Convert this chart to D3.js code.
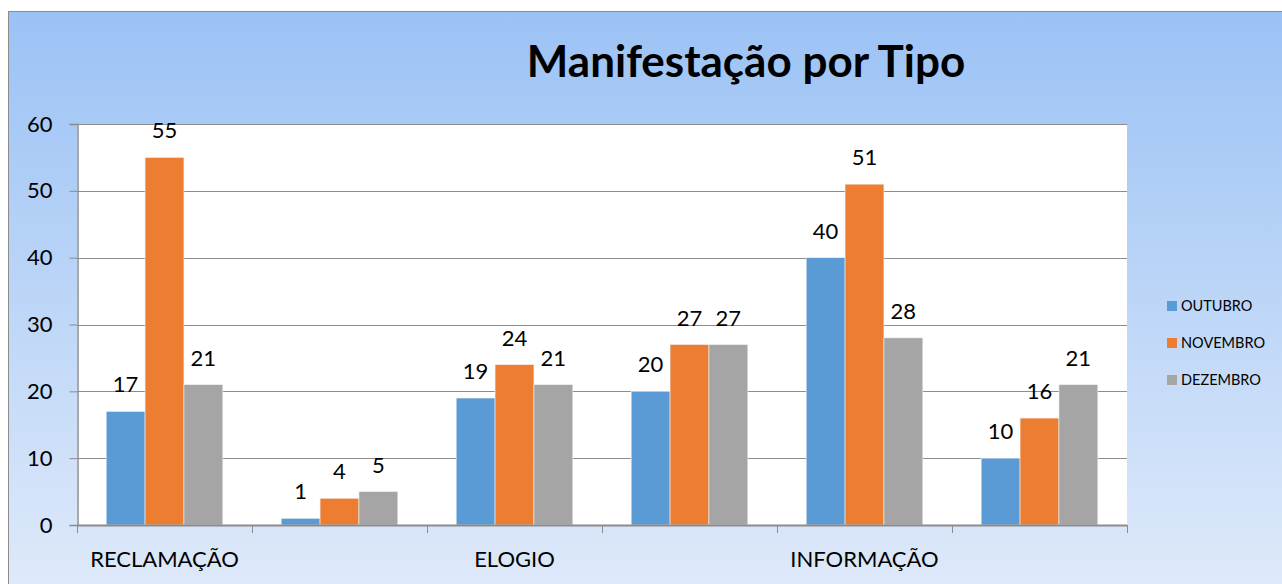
<!DOCTYPE html>
<html lang="pt">
<head>
    <meta charset="UTF-8">
    <title>Manifestação por Tipo</title>
    <script src="https://d3js.org/d3.v7.min.js"></script>
    <style>
        body {
            margin: 0;
            background: #fff;
        }
        svg text {
            font-family: Lato, 'Open Sans', sans-serif;
        }
    </style>
</head>
<body>
    <script>
        const W = 1282
        const H = 584

        // categorias (só uma em cada duas aparece no eixo, como no original)
        const categories = ['RECLAMAÇÃO', 'DENÚNCIA', 'ELOGIO', 'SUGESTÃO', 'INFORMAÇÃO', 'SOLICITAÇÃO']
        const months = ['OUTUBRO', 'NOVEMBRO', 'DEZEMBRO']
        const outubro = [17, 1, 19, 20, 40, 10]
        const novembro = [55, 4, 24, 27, 51, 16]
        const dezembro = [21, 5, 21, 27, 28, 21]
        const yTicks = [0, 10, 20, 30, 40, 50, 60]
        const colors = ['#5b9bd5', '#ed7d31', '#a5a5a5']

        const series = [outubro, novembro, dezembro]

        const plot = { left: 77, top: 124, right: 1127, bottom: 525 }

        const svg = d3.select('body')
            .append('svg')
            .attr('width', W)
            .attr('height', H)

        // fundo em degradê
        const grad = svg.append('defs')
            .append('linearGradient')
            .attr('id', 'bg')
            .attr('x1', 0).attr('y1', 0)
            .attr('x2', 0).attr('y2', 1)
        grad.append('stop').attr('offset', '0%').attr('stop-color', '#9bc2f5')
        grad.append('stop').attr('offset', '100%').attr('stop-color', '#dfeafa')

        svg.append('rect')
            .attr('x', 8.5)
            .attr('y', 11.5)
            .attr('width', W)
            .attr('height', H)
            .attr('fill', 'url(#bg)')
            .attr('stroke', '#8c8c8c')
            .attr('stroke-width', 1)

        svg.append('rect')
            .attr('x', plot.left)
            .attr('y', plot.top)
            .attr('width', plot.right - plot.left)
            .attr('height', plot.bottom - plot.top)
            .attr('fill', '#fff')

        const x0 = d3.scaleBand()
            .domain(categories)
            .range([plot.left, plot.right])
            .paddingInner(0)
            .paddingOuter(0)

        // 3 barras + folga de 150% dividida dos dois lados
        const x1 = d3.scaleBand()
            .domain(months)
            .range([0, x0.bandwidth()])
            .paddingInner(0)
            .paddingOuter(0.75)

        const y = d3.scaleLinear()
            .domain([0, 60])
            .range([plot.bottom, plot.top])

        // linhas de grade
        svg.append('g')
            .selectAll('line')
            .data(yTicks.filter(d => d > 0))
            .enter()
            .append('line')
            .attr('x1', plot.left)
            .attr('x2', plot.right)
            .attr('y1', d => Math.round(y(d)) + 0.5)
            .attr('y2', d => Math.round(y(d)) + 0.5)
            .attr('stroke', '#8c8c8c')
            .attr('stroke-width', 1)

        // barras
        const groups = svg.append('g')
            .selectAll('g')
            .data(categories)
            .enter()
            .append('g')
            .attr('transform', d => `translate(${x0(d)},0)`)

        groups.selectAll('rect')
            .data((c, i) => months.map((m, j) => ({ m, j, v: series[j][i] })))
            .enter()
            .append('rect')
            .attr('x', d => x1(d.m))
            .attr('y', d => y(d.v))
            .attr('width', x1.bandwidth())
            .attr('height', d => y(0) - y(d.v))
            .attr('fill', d => colors[d.j])
            .attr('stroke', '#f2f2f2')
            .attr('stroke-width', 0.6)

        groups.selectAll('text')
            .data((c, i) => months.map((m, j) => ({ m, j, v: series[j][i] })))
            .enter()
            .append('text')
            .attr('x', d => x1(d.m) + x1.bandwidth() / 2)
            .attr('y', d => y(d.v) - 19)
            .attr('text-anchor', 'middle')
            .attr('font-size', 22)
            .attr('fill', '#000')
            .text(d => d.v)

        // eixo Y
        const yAxis = d3.axisLeft(y)
            .tickValues(yTicks)
            .tickSize(8)
            .tickPadding(17)

        const gy = svg.append('g')
            .attr('transform', `translate(${plot.left + 0.5},0)`)
            .call(yAxis)
        gy.select('.domain').attr('stroke', '#8c8c8c').attr('stroke-width', 1.5)
        gy.selectAll('.tick line').attr('stroke', '#8c8c8c')
        gy.selectAll('.tick text')
            .attr('font-size', 22)
            .attr('fill', '#000')
            .attr('font-family', 'Lato, sans-serif')

        // eixo X: marcas nas fronteiras das categorias
        const bounds = d3.range(categories.length + 1)
        svg.append('line')
            .attr('x1', plot.left)
            .attr('x2', plot.right)
            .attr('y1', plot.bottom + 0.5)
            .attr('y2', plot.bottom + 0.5)
            .attr('stroke', '#8c8c8c')
            .attr('stroke-width', 2)

        svg.append('g')
            .selectAll('line')
            .data(bounds)
            .enter()
            .append('line')
            .attr('x1', i => Math.round(plot.left + i * x0.step()) + 0.5)
            .attr('x2', i => Math.round(plot.left + i * x0.step()) + 0.5)
            .attr('y1', plot.bottom)
            .attr('y2', plot.bottom + 8)
            .attr('stroke', '#8c8c8c')
            .attr('stroke-width', 1)

        svg.append('g')
            .selectAll('text')
            .data(categories.filter((c, i) => i % 2 === 0))
            .enter()
            .append('text')
            .attr('x', d => x0(d) + x0.bandwidth() / 2)
            .attr('y', 567)
            .attr('text-anchor', 'middle')
            .attr('font-size', 22)
            .attr('fill', '#000')
            .text(d => d)

        // título
        svg.append('text')
            .attr('x', 746)
            .attr('y', 77)
            .attr('text-anchor', 'middle')
            .attr('font-size', 44)
            .attr('font-weight', 'bold')
            .attr('fill', '#000')
            .text('Manifestação por Tipo')

        // legenda
        const legend = svg.append('g')
            .selectAll('g')
            .data(months)
            .enter()
            .append('g')
            .attr('transform', (d, i) => `translate(1167,${306 + i * 37})`)

        legend.append('rect')
            .attr('x', 0)
            .attr('y', -5)
            .attr('width', 10)
            .attr('height', 10)
            .attr('fill', (d, i) => colors[i])

        legend.append('text')
            .attr('x', 14)
            .attr('y', 5)
            .attr('font-size', 14.5)
            .attr('fill', '#000')
            .text(d => d)
    </script>
</body>
</html>
